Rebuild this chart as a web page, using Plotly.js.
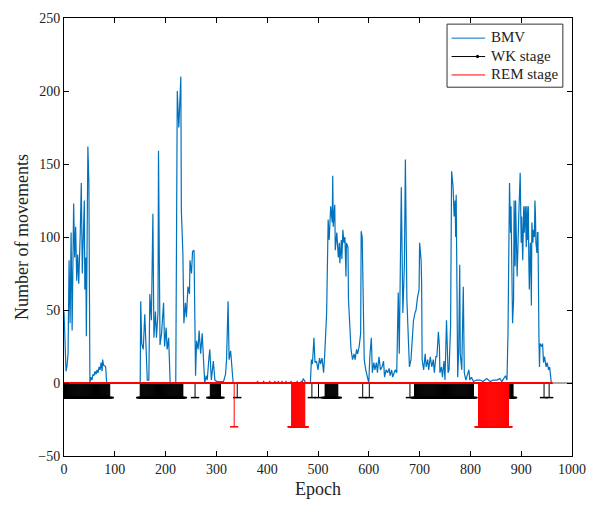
<!DOCTYPE html>
<html>
<head>
<meta charset="utf-8">
<script src="https://cdn.plot.ly/plotly-3.0.1.min.js"></script>
<style>html,body{margin:0;padding:0;background:#fff;}#chart{width:589px;height:507px;}</style>
</head>
<body>
<div id="chart"></div>
<script>
// BMV: epoch and number of movements
const bmvEpoch = [0,2,4,6,8,10,12,14,16,19,21,23,25,27,29,32,34,36,38,40,41,43,44,47,49,51,53,55,57,59,61,63,65,67,69,71,73,75,76,78,80,82,84,100,148,
150,151,153,156,159,161,164,167,169,172,175,177,180,182,185,186,189,192,196,198,201,203,206,209,220,223,226,230,231,234,236,239,241,244,247,248,251,253,256,257,259,261,264,266,269,272,274,277,280,282,285,287,290,294,297,301,307,314,318,320,323,325,328,331,333,340,
380,381,382,392,393,394,404,405,406,414,415,416,421,422,423,428,429,430,436,437,438,446,447,448,458,459,460,466,467,468,
471,476,485,487,489,492,494,497,500,503,505,508,511,513,515,517,520,522,525,528,529,530,533,534,537,540,542,543,546,547,549,551,553,555,556,559,560,562,565,568,571,573,576,578,581,584,585,587,589,591,594,597,600,602,605,607,610,612,615,617,620,623,626,629,631,634,637,640,642,645,647,650,652,655,658,660,664,667,670,672,675,678,680,683,686,688,691,693,696,699,700,703,704,705,708,711,713,716,718,721,724,727,729,732,734,737,739,740,743,745,748,750,753,756,758,761,762,763,766,768,770,771,772,773,775,777,779,780,783,786,788,791,794,797,799,802,806,812,819,825,832,839,845,852,858,862,869,872,874,877,879,880,883,885,886,888,889,892,895,898,900,901,903,905,906,908,910,911,912,914,915,916,918,919,920,921,923,924,926,927,928,929,931,932,933,935,936,937,940,942,944,946,949,951,954,956,959,961];
const bmvValue = [49,30,8,12,20,84,41,103,36,123,86,107,70,88,68,103,137,75,105,125,64,86,32,162,137,0,4,2,6,5,8,6,9,7,11,9,14,8,16,12,12,11,0,0,0,
0,56,27,23,47,29,2,2,61,43,116,31,49,31,48,159,26,34,55,25,38,23,31,0,0,200,175,210,118,89,41,55,45,66,61,84,75,90,91,61,5,29,23,36,20,34,16,0,5,2,16,23,2,15,2,1,1,1,6,16,56,16,22,4,0,0,
0,1.5,0,0,1.5,0,0,1.5,0,0,1.5,0,0,1.5,0,0,1.5,0,0,1.5,0,0,1.5,0,0,1.5,0,0,1.5,0,
3,0,0,16,13,31,14,15,9,17,13,17,7,18,30,48,112,98,121,110,142,107,122,91,103,86,96,82,98,85,105,96,100,73,96,93,57,39,23,16,20,16,23,20,25,34,104,100,52,16,9,3,0,18,31,7,14,9,14,7,18,9,11,15,4,9,7,10,5,9,4,7,9,7,62,20,134,48,80,153,57,29,11,16,36,43,48,50,59,64,96,84,68,16,9,20,11,16,9,18,11,16,7,18,18,35,25,7,11,4,15,2,43,7,9,39,93,145,134,114,125,100,129,57,4,23,81,20,9,66,7,2,5,9,2,4,1,2,2,1,3,1,2,2,3,1,5,2,34,137,103,121,41,57,125,80,125,73,112,144,96,114,84,121,103,121,93,121,98,121,84,64,96,84,53,110,96,105,100,125,116,96,89,103,103,29,11,27,25,27,14,18,11,14,9,11,1,0];

// WK stage epochs (start/end of runs) and REM stage epochs
const wkStart = [1,150,258,288,341,488,501,514,588,601,681,690,876,945,955];
const wkEnd   = [90,234,258,308,341,488,501,539,588,601,681,806,884,945,955];
const remStart = [335,448,816];
const remEnd   = [335,474,875];
const wkLevel = -10;
const remLevel = -30;

// Legend labels
const legendNames = ['BMV', 'WK stage', 'REM stage'];
const legendColors = ['#0072BD', '#000000', '#FF0000'];

function expand(starts, ends){
  const out = [];
  for (let i = 0; i < starts.length; i++) for (let e = starts[i]; e <= ends[i]; e++) out.push(e);
  return out;
}
function stems(epochs, level){
  const x = [], y = [];
  epochs.forEach(e => { x.push(e, e, null); y.push(0, level, null); });
  return {x, y};
}
const wkEpochs = expand(wkStart, wkEnd);
const remEpochs = expand(remStart, remEnd);
const wkS = stems(wkEpochs, wkLevel);
const remS = stems(remEpochs, remLevel);

const font = "'Liberation Serif', 'Times New Roman', serif";

const traces = [
  {x: bmvEpoch, y: bmvValue, type: 'scatter', mode: 'lines', name: legendNames[0],
   line: {color: legendColors[0], width: 1.2}},
  {x: wkS.x, y: wkS.y, type: 'scatter', mode: 'lines', name: legendNames[1],
   line: {color: legendColors[1], width: 1}},
  {x: wkEpochs, y: wkEpochs.map(() => wkLevel), type: 'scatter', mode: 'markers',
   marker: {symbol: 'line-ew', size: 6, line: {color: '#000000', width: 1.5}}},
  {x: [0, 1000], y: [0, 0], type: 'scatter', mode: 'lines',
   line: {color: '#8c8c8c', width: 1.5}},
  {x: remS.x, y: remS.y, type: 'scatter', mode: 'lines', name: legendNames[2],
   line: {color: legendColors[2], width: 1}},
  {x: remEpochs, y: remEpochs.map(() => remLevel), type: 'scatter', mode: 'markers',
   marker: {symbol: 'line-ew', size: 6, line: {color: '#FF0000', width: 1.5}}},
  {x: [0, 962], y: [0, 0], type: 'scatter', mode: 'lines',
   line: {color: '#FF0000', width: 2}}
];

// Legend drawn in paper coordinates
const legY = [0.954, 0.912, 0.870];
const shapes = [{type: 'rect', xref: 'paper', yref: 'paper', x0: 0.754, x1: 0.982, y0: 0.842, y1: 0.986,
  fillcolor: '#fff', line: {color: '#333', width: 1}, layer: 'above'}];
const annotations = [];
legendNames.forEach((n, i) => {
  shapes.push({type: 'line', xref: 'paper', yref: 'paper', x0: 0.763, x1: 0.829, y0: legY[i], y1: legY[i],
    line: {color: legendColors[i], width: 1}, layer: 'above'});
  annotations.push({xref: 'paper', yref: 'paper', x: 0.836, y: legY[i] + 0.002, xanchor: 'left', yanchor: 'middle',
    text: n, showarrow: false, font: {family: font, size: 15, color: '#222'}});
});
shapes.push({type: 'circle', xref: 'paper', yref: 'paper', x0: 0.811, x1: 0.817, y0: legY[1] - 0.004, y1: legY[1] + 0.004,
  fillcolor: '#000', line: {color: '#000', width: 0}, layer: 'above'});

const axisCommon = {
  showline: true, mirror: 'ticks', linecolor: '#000', linewidth: 1,
  ticks: 'inside', ticklen: 5, tickcolor: '#000', tickwidth: 1,
  showgrid: false, zeroline: false,
  tickfont: {family: font, size: 14, color: '#222'}
};

const layout = {
  width: 589, height: 507,
  margin: {l: 64, r: 17, t: 18, b: 51},
  paper_bgcolor: '#fff', plot_bgcolor: '#fff',
  font: {family: font, color: '#222'},
  showlegend: false,
  shapes: shapes,
  annotations: annotations,
  xaxis: Object.assign({}, axisCommon, {range: [0, 1000], tickvals: [0,100,200,300,400,500,600,700,800,900,1000],
    title: {text: 'Epoch', font: {family: font, size: 18, color: '#222'}, standoff: 6}}),
  yaxis: Object.assign({}, axisCommon, {range: [-50, 250], tickvals: [-50,0,50,100,150,200,250],
    title: {text: 'Number of movements', font: {family: font, size: 18, color: '#222'}, standoff: 4}})
};

Plotly.newPlot('chart', traces, layout, {staticPlot: true, displayModeBar: false});
</script>
</body>
</html>
